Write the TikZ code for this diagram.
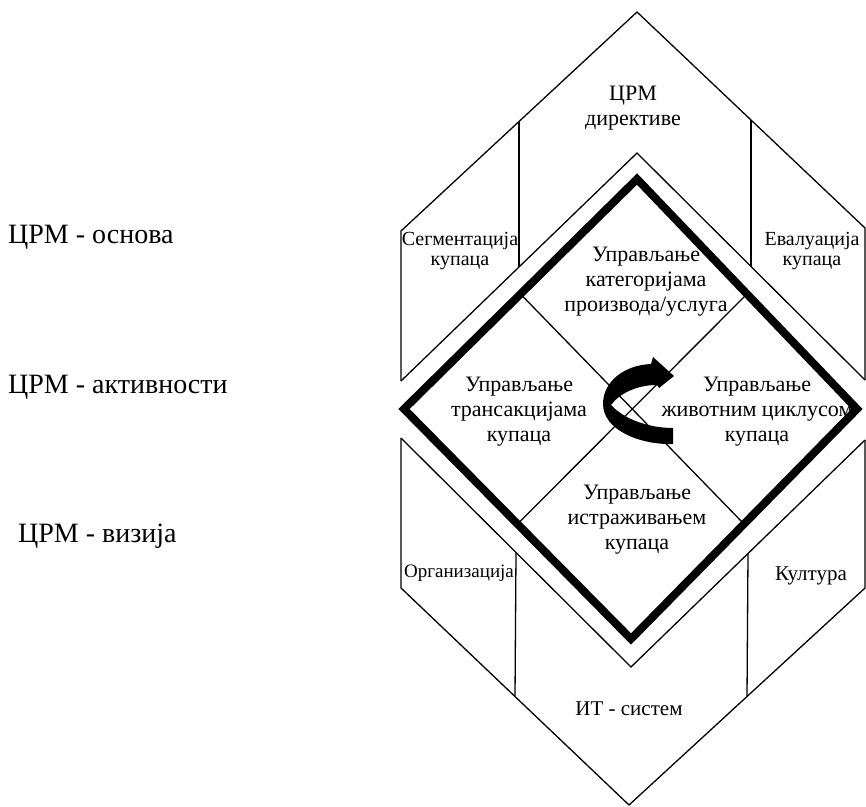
\documentclass[tikz,border=0pt]{standalone}
\usepackage{fontspec}
\setmainfont{Liberation Serif}
\usetikzlibrary{calc}
\begin{document}
\begin{tikzpicture}[x=1pt,y=-1pt,
  thinline/.style={line width=1.3pt,line join=miter},
  thickline/.style={line width=8pt,line join=miter},
  lbl/.style={font=\fontsize{22}{25}\selectfont,align=center,anchor=base,inner sep=0pt},
  side/.style={font=\fontsize{20}{20}\selectfont,align=center,anchor=base,inner sep=0pt},
  lefttext/.style={font=\fontsize{28}{32}\selectfont,anchor=base west,inner sep=0pt}]
\useasboundingbox (0,0) rectangle (866,806);
% top block
\coordinate (A1) at (401,381);
\coordinate (A2) at (401,231);
\coordinate (A3) at (637,12);
\coordinate (A4) at (865,228);
\coordinate (A5) at (865,380);
\coordinate (B1) at (637,153);
\draw[thinline] (A1) -- (A2) -- (A3) -- (A4) -- (A5);
\draw[thinline] (A1) -- (B1) -- (A5);
\draw[thinline] ($(A2)!0.5!(A3)$) -- ($(A1)!0.5!(B1)$);
\draw[thinline] ($(A3)!0.5!(A4)$) -- ($(B1)!0.5!(A5)$);
% bottom block
\coordinate (C1) at (401,438);
\coordinate (C2) at (401,588);
\coordinate (C3) at (629,805);
\coordinate (C4) at (865,588);
\coordinate (C5) at (865,440);
\coordinate (D1) at (631,667);
\draw[thinline] (C1) -- (C2) -- (C3) -- (C4) -- (C5);
\draw[thinline] (C1) -- (D1) -- (C5);
\draw[thinline] ($(C1)!0.5!(D1)$) -- ($(C2)!0.5!(C3)$);
\draw[thinline] ($(D1)!0.5!(C5)$) -- ($(C3)!0.5!(C4)$);
% thick diamond
\coordinate (K1) at (637,179);
\coordinate (K2) at (857,409);
\coordinate (K3) at (631,639);
\coordinate (K4) at (404,409);
\draw[thinline] ($(K1)!0.5!(K4)$) -- ($(K2)!0.5!(K3)$);
\draw[thinline] ($(K1)!0.5!(K2)$) -- ($(K3)!0.5!(K4)$);
\draw[thickline] (K1) -- (K2) -- (K3) -- (K4) -- cycle;
% curved arrow
\fill (673,444) .. controls (640,445) and (603,430) .. (603,404)
  .. controls (603,381) and (625,365) .. (651,364)
  -- (653,357) -- (674,376) -- (659,388) -- (657,385)
  .. controls (636,385) and (619,394) .. (611,405)
  .. controls (625,420) and (650,428) .. (673,428) -- cycle;
% texts (anchor = baseline of the last line)
\node[lbl] (tTop) at (646,311) {Управљање\\категоријама\\производа/услуга};
\node[lbl] (tLeft) at (519,441) {Управљање\\трансакцијама\\купаца};
\node[lbl] (tRight) at (757,441) {Управљање\\животним циклусом\\купаца};
\node[lbl] (tBottom) at (637,549) {Управљање\\истраживањем\\купаца};
\node[lbl] (tDir) at (633,125) {ЦРМ\\директиве};
\node[side] (tSeg) at (460,265) {Сегментација\\купаца};
\node[side] (tEval) at (812,265) {Евалуација\\купаца};
\node[lbl,font=\fontsize{19}{22}\selectfont] (tOrg) at (459,577) {Организација};
\node[lbl,font=\fontsize{21}{24}\selectfont] (tCult) at (811,580) {Култура};
\node[lbl,font=\fontsize{21}{24}\selectfont] (tIT) at (629,715) {ИТ - систем};
\node[lefttext] (l1) at (8,243) {ЦРМ - основа};
\node[lefttext] (l2) at (8,393) {ЦРМ - активности};
\node[lefttext] (l3) at (18,542) {ЦРМ - визија};
\end{tikzpicture}
\end{document}
